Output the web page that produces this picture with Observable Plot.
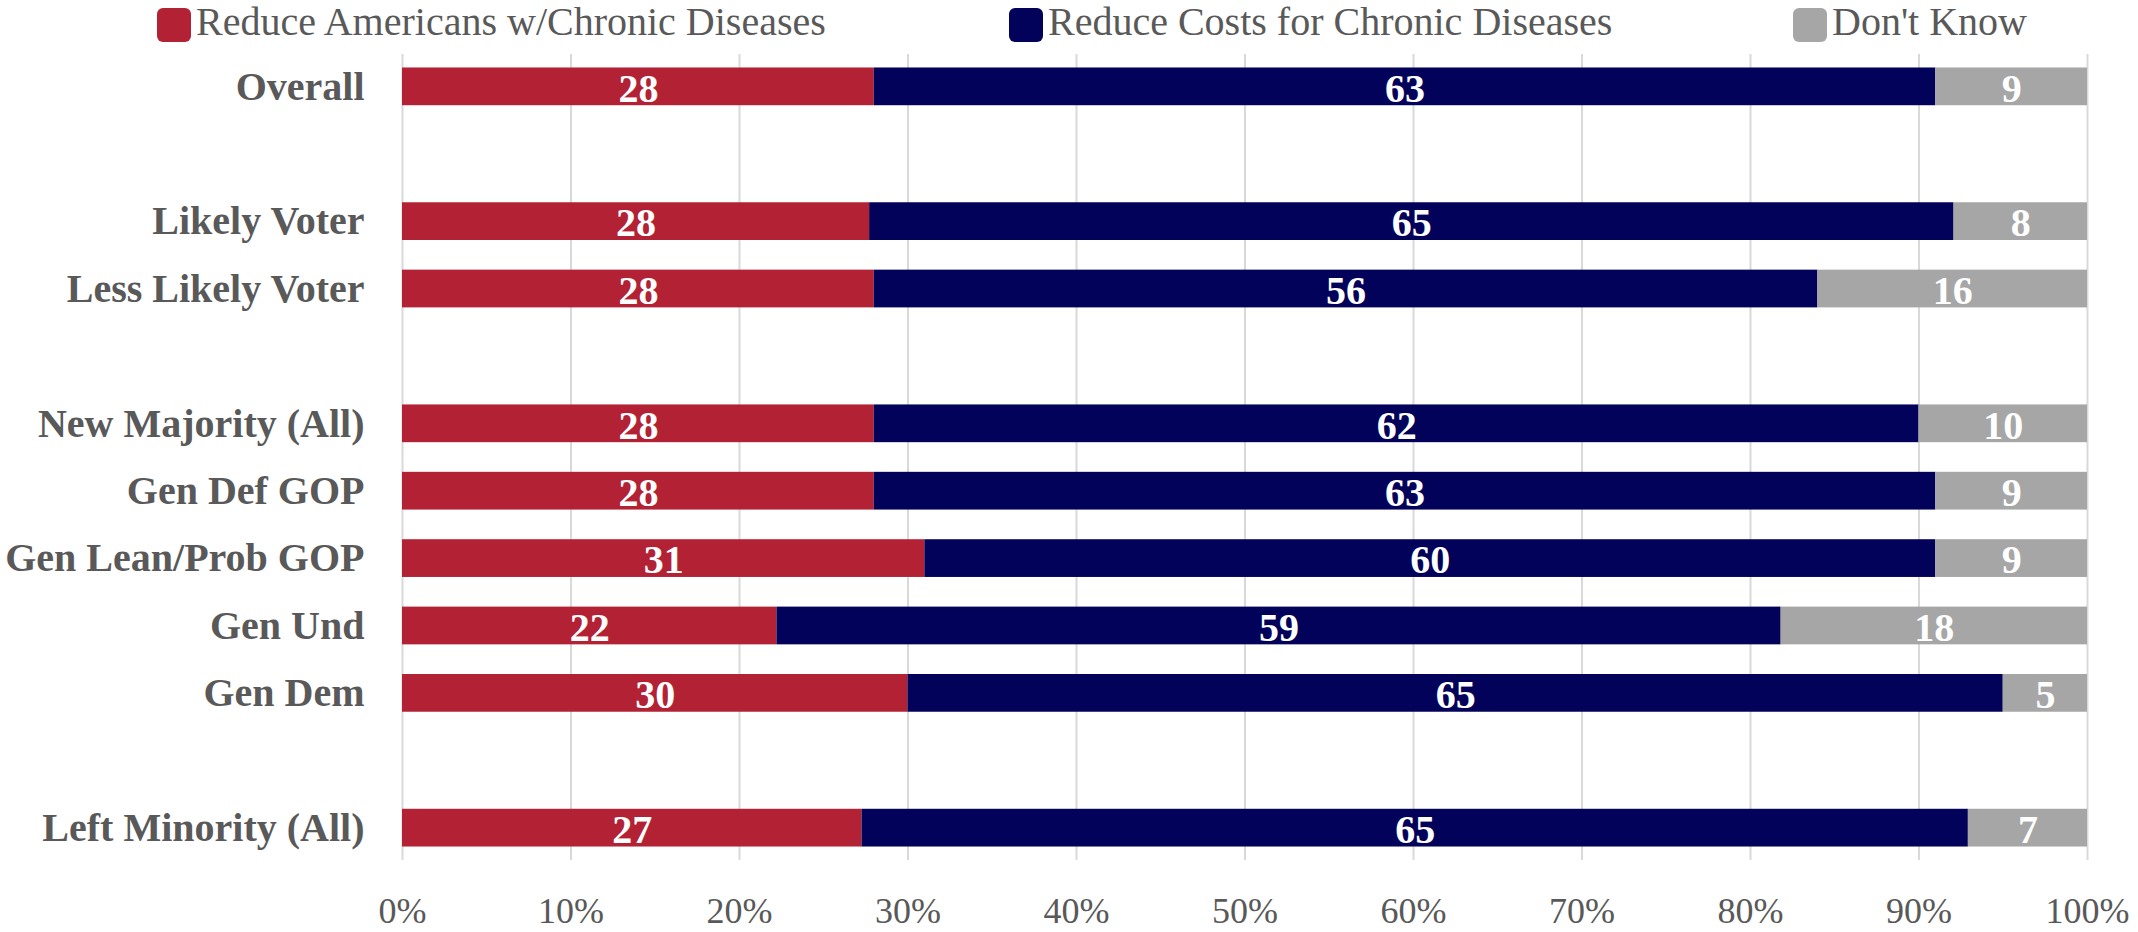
<!DOCTYPE html>
<html>
<head>
<meta charset="utf-8">
<script src="https://cdn.jsdelivr.net/npm/d3@7"></script>
<script src="https://cdn.jsdelivr.net/npm/@observablehq/plot@0.6"></script>
<style>
  html, body { margin: 0; padding: 0; background: #ffffff; }
  #wrap { width: 2138px; font-family: "Liberation Serif", "DejaVu Serif", serif; color: #595959; }
  #legend { position: relative; height: 46px; width: 2138px; }
  .sw { position: absolute; top: 8px; width: 34px; height: 34px; border-radius: 6px; }
  .lt { position: absolute; top: 2px; font-size: 40px; line-height: 1; white-space: nowrap; color: #595959; }
</style>
</head>
<body>
<div id="wrap">
  <div id="legend"></div>
  <div id="chart"></div>
</div>
<script>
// ---- data ----
const rows = ["Overall", "Likely Voter", "Less Likely Voter", "New Majority (All)", "Gen Def GOP", "Gen Lean/Prob GOP", "Gen Und", "Gen Dem", "Left Minority (All)"];
const rowOrder = ["Overall", "gap1", "Likely Voter", "Less Likely Voter", "gap2", "New Majority (All)", "Gen Def GOP", "Gen Lean/Prob GOP", "Gen Und", "Gen Dem", "gap3", "Left Minority (All)"];
const series = ["Reduce Americans w/Chronic Diseases", "Reduce Costs for Chronic Diseases", "Don't Know"];
const reduceAmericans = [28, 28, 28, 28, 28, 31, 22, 30, 27];
const reduceCosts = [63, 65, 56, 62, 63, 60, 59, 65, 65];
const dontKnow = [9, 8, 16, 10, 9, 9, 18, 5, 7];
const xTicks = [0, 10, 20, 30, 40, 50, 60, 70, 80, 90, 100];
const colors = ["#B22234", "#02025A", "#A6A6A6"];

const valuesBySeries = [reduceAmericans, reduceCosts, dontKnow];
const data = rows.flatMap((r, i) => series.map((s, j) => ({row: r, series: s, value: valuesBySeries[j][i]})));

// ---- legend ----
const legendPos = [157, 1009, 1793];
const legend = d3.select("#legend");
series.forEach((s, i) => {
  legend.append("div").attr("class", "sw").style("left", legendPos[i] + "px").style("background", colors[i]);
  legend.append("div").attr("class", "lt").style("left", (legendPos[i] + 39) + "px").text(s);
});

// ---- chart ----
const font = "Liberation Serif";
const chart = Plot.plot({
  width: 2138,
  height: 886,
  marginLeft: 402,
  marginRight: 51,
  marginTop: 8,
  marginBottom: 72,
  style: {fontFamily: font, color: "#595959", background: "white"},
  x: {domain: [0, 1], label: null},
  y: {domain: rowOrder, paddingInner: 0.44, paddingOuter: 0.2, round: false, label: null},
  color: {domain: series, range: colors},
  marks: [
    Plot.gridX(xTicks.map(d => d / 100), {stroke: "#D9D9D9", strokeOpacity: 1, strokeWidth: 2}),
    Plot.barX(data, Plot.stackX({offset: "normalize", x: "value", y: "row", fill: "series", z: "series"})),
    Plot.text(data, Plot.stackX({offset: "normalize", x: "value", y: "row", z: "series", text: d => String(d.value), fill: "white", fontSize: 40, fontWeight: "bold", fontFamily: font, dy: 2})),
    Plot.axisX({ticks: xTicks.map(d => d / 100), tickFormat: d => Math.round(d * 100) + "%", tickSize: 0, tickPadding: 37, fontSize: 36, label: null}),
    Plot.axisY({tickSize: 0, tickPadding: 38, fontSize: 40, fontWeight: "bold", tickFormat: d => d.startsWith("gap") ? "" : d, label: null})
  ]
});
document.getElementById("chart").appendChild(chart);
</script>
</body>
</html>
